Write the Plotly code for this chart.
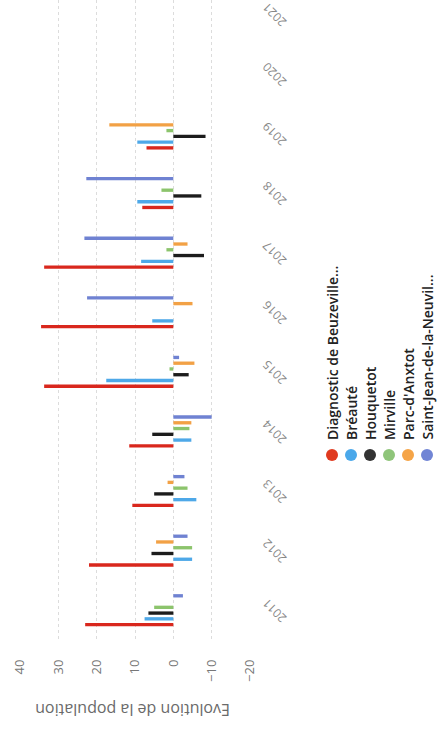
import plotly.graph_objects as go

# Annual population change per commune (values in inhabitants)
years = [2011, 2012, 2013, 2014, 2015, 2016, 2017, 2018, 2019, 2020, 2021]

series_names = [
    "Diagnostic de Beuzeville...",
    "Bréauté",
    "Houquetot",
    "Mirville",
    "Parc-d'Anxtot",
    "Saint-Jean-de-la-Neuvil...",
]

diagnostic = [23, 22, 10.7, 11.5, 33.7, 34.5, 33.7, 8.1, 7.0, None, None]
breaute = [7.5, -4.9, -6, -4.7, 17.5, 5.5, 8.4, 9.4, 9.4, None, None]
houquetot = [6.5, 5.7, 5, 5.5, -4, None, -8, -7.3, -8.4, None, None]
mirville = [5, -4.9, -3.7, -4.2, 1, None, 1.8, 3.1, 1.8, None, None]
parc_anxtot = [None, 4.5, 1.5, -4.7, -5.5, -5, -3.7, None, 16.7, None, None]
saint_jean = [-2.5, -3.7, -2.9, -10, -1.5, 22.5, 23.2, 22.7, None, None, None]

series_values = [diagnostic, breaute, houquetot, mirville, parc_anxtot, saint_jean]
colors = ["#d9271d", "#4ea8e8", "#1c1c1c", "#8cc46c", "#f2a145", "#6f82d2"]
legend_colors = ["#e03a1f", "#4aa8ea", "#333333", "#8fc57a", "#f5a447", "#7185d5"]

value_ticks = [40, 30, 20, 10, 0, -10, -20]
axis_title = "Evolution de la population"

W, H = 438, 729
M_L, M_R, M_T, M_B = 20, 188, 0, 89
PW, PH = W - M_L - M_R, H - M_T - M_B
Y_RANGE = [2010.5, 2021.24]
LABEL_SHIFT = 0.22  # years: moves the slanted year labels onto their bar groups


def px_x(x):
    return (x - M_L) / PW


def px_y(y):
    return (H - M_B - y) / PH


fig = go.Figure()
for name, vals, col in zip(series_names, series_values, colors):
    fig.add_trace(go.Bar(
        y=years, x=vals, name=name, orientation="h",
        marker=dict(color=col, line=dict(width=0)),
        showlegend=False,
    ))

# carrier for the year-label axis
fig.add_trace(go.Scatter(x=[None], y=[None], yaxis="y2", showlegend=False, hoverinfo="skip"))

# Legend drawn as rotated labels with coloured dots
annotations = []
shapes = []
col_x = [332, 351, 370, 389, 408, 427]
dot_y = 455
r = 6
for name, col, cx in zip(series_names, legend_colors, col_x):
    shapes.append(dict(
        type="circle", xref="paper", yref="paper",
        x0=px_x(cx - r), x1=px_x(cx + r), y0=px_y(dot_y + r), y1=px_y(dot_y - r),
        fillcolor=col, line=dict(width=0),
    ))
    annotations.append(dict(
        text=name, textangle=-90, xref="paper", yref="paper",
        x=px_x(cx), y=px_y(dot_y - 13), xanchor="center", yanchor="bottom",
        showarrow=False,
        font=dict(family="Open Sans", size=14, color="#222222", weight=600),
    ))

annotations.append(dict(
    text=axis_title, textangle=180, xref="paper", yref="paper",
    x=px_x(133), y=px_y(710), xanchor="center", yanchor="middle",
    showarrow=False, font=dict(family="Open Sans", size=16, color="#6a6a6a"),
))

fig.update_layout(
    template="none",
    width=W, height=H,
    margin=dict(l=M_L, r=M_R, t=M_T, b=M_B),
    paper_bgcolor="#ffffff", plot_bgcolor="#ffffff",
    barmode="group", bargap=0.42, bargroupgap=0.42,
    annotations=annotations, shapes=shapes,
    font=dict(family="Open Sans", color="#777777"),
    xaxis=dict(
        range=[40, -20], tickvals=value_ticks, tickangle=-90,
        tickfont=dict(size=13, color="#777777"),
        showgrid=True, gridcolor="#dcdcdc", griddash="dot", gridwidth=1,
        zeroline=False, showline=False, ticks="", automargin=False,
        ticklabelstandoff=16,
    ),
    yaxis=dict(
        range=Y_RANGE, tickvals=years, side="right", showticklabels=False,
        showgrid=False, zeroline=False, showline=False, ticks="", automargin=False,
    ),
    yaxis2=dict(
        overlaying="y", side="right",
        range=[Y_RANGE[0] + LABEL_SHIFT, Y_RANGE[1] + LABEL_SHIFT],
        tickvals=years, tickangle=-135,
        tickfont=dict(size=12, color="#888888"),
        showgrid=False, zeroline=False, showline=False, ticks="", automargin=False,
        ticklabelstandoff=32, ticklabeloverflow="allow",
    ),
)

fig.write_html("out.html")
